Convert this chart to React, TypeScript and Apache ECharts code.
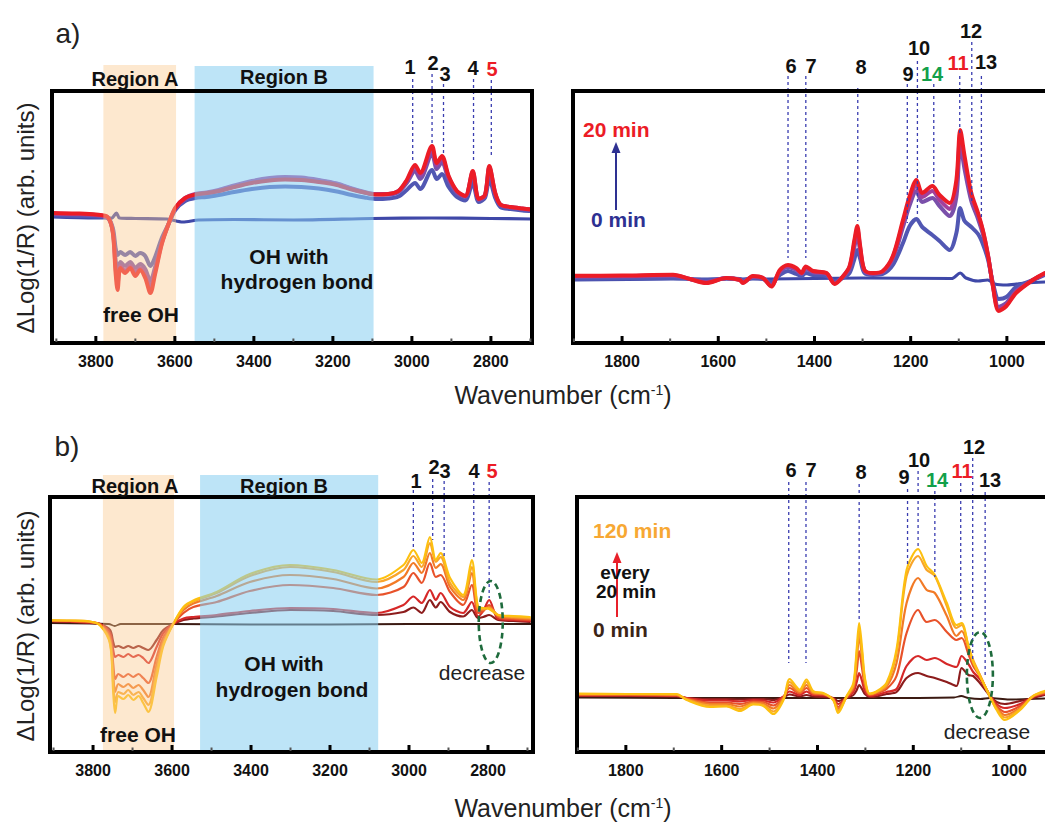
import React, { useEffect, useRef } from "react";
import * as echarts from "echarts";

const FONT = '"Liberation Sans", Arial, Helvetica, sans-serif';

// ================= Panel a (0 → 20 min), 3910–2700 cm-1 =================
const A_HI_WN = [3910, 3850, 3800, 3770, 3757, 3750, 3745, 3738, 3726, 3713, 3700, 3688, 3675, 3662, 3650, 3633, 3616, 3599, 3574, 3548, 3520, 3489, 3450, 3405, 3360, 3321, 3280, 3236, 3190, 3152, 3120, 3093, 3060, 3034, 3013, 2992, 2979, 2949, 2937, 2924, 2907, 2886, 2865, 2846, 2831, 2815, 2804, 2789, 2776, 2750, 2720, 2696];
const A_HI_5MIN = [0.25, 0.2, 0.15, 0.0, -1.0, -3.0, -3.7, -3.4, -3.7, -3.4, -3.8, -3.5, -3.8, -4.8, -3.9, -2.0, -0.6, 0.8, 1.7, 2.0, 2.1, 2.3, 2.6, 2.9, 3.1, 3.15, 3.1, 2.95, 2.65, 2.3, 2.05, 1.9, 1.95, 2.15, 2.8, 3.5, 2.9, 4.8, 3.9, 4.4, 3.1, 2.1, 1.75, 3.5, 1.6, 2.0, 3.9, 2.0, 1.1, 0.9, 0.75, 0.7];
const A_HI_10MIN = [0.4, 0.35, 0.3, 0.05, -1.3, -4.2, -5.4, -4.4, -4.8, -4.4, -5.0, -4.6, -5.1, -6.3, -4.9, -2.4, -0.6, 0.9, 1.9, 2.3, 2.45, 2.7, 3.15, 3.6, 3.9, 4.0, 3.95, 3.75, 3.4, 2.9, 2.55, 2.35, 2.35, 2.6, 3.5, 4.7, 3.9, 6.4, 4.9, 5.6, 3.8, 2.5, 2.1, 4.3, 1.8, 2.2, 4.8, 2.3, 1.3, 1.05, 0.9, 0.8];
const A_HI_15MIN = [0.45, 0.4, 0.3, 0.05, -1.4, -5.0, -6.5, -4.8, -5.3, -4.8, -5.5, -5.0, -5.6, -7.0, -5.3, -2.5, -0.6, 1.0, 2.0, 2.4, 2.55, 2.8, 3.25, 3.7, 4.0, 4.1, 4.05, 3.8, 3.45, 2.95, 2.6, 2.4, 2.4, 2.7, 3.7, 5.1, 4.3, 6.9, 5.3, 6.0, 4.1, 2.65, 2.2, 4.6, 1.9, 2.3, 5.1, 2.45, 1.35, 1.1, 0.95, 0.85];
const A_HI_20MIN = [0.5, 0.45, 0.35, 0.1, -1.5, -5.5, -7.2, -5.0, -5.5, -5.0, -5.8, -5.2, -6.0, -7.5, -5.6, -2.6, -0.6, 1.0, 2.0, 2.35, 2.5, 2.7, 3.1, 3.5, 3.75, 3.85, 3.8, 3.6, 3.3, 2.85, 2.55, 2.35, 2.4, 2.7, 3.8, 5.3, 4.5, 7.2, 5.5, 6.2, 4.2, 2.7, 2.2, 4.7, 1.9, 2.3, 5.2, 2.5, 1.35, 1.1, 0.95, 0.85];
const A_HI_0MIN_WN = [3910, 3800, 3760, 3748, 3740, 3700, 3620, 3580, 3540, 3450, 3300, 3100, 2950, 2800, 2696];
const A_HI_0MIN = [0.1, 0.0, 0.0, 0.5, 0.0, -0.05, -0.1, -0.4, -0.2, -0.15, -0.2, -0.05, 0.0, -0.05, -0.1];

// ================= Panel a, 1900–920 cm-1 =================
const A_LO_WN = [1902, 1800, 1694, 1659, 1625, 1583, 1555, 1549, 1528, 1507, 1490, 1472, 1455, 1438, 1427, 1418, 1403, 1375, 1358, 1341, 1327, 1317, 1311, 1305, 1296, 1278, 1258, 1237, 1216, 1202, 1188, 1176, 1155, 1140, 1119, 1105, 1097, 1088, 1074, 1060, 1050, 1039, 1029, 1017, 1001, 981, 946, 921];
const A_LO_5MIN = [0.0, 0.05, 0.1, 0.0, -0.1, 0.05, 0.0, -0.1, 0.1, 0.0, -0.3, 0.4, 0.8, 0.5, 0.3, 0.6, 0.4, 0.3, -0.2, 0.1, 0.6, 2.0, 2.9, 2.0, 0.6, 0.4, 0.5, 1.4, 3.6, 5.3, 6.0, 5.2, 4.4, 3.8, 2.9, 4.6, 7.1, 5.8, 5.2, 4.5, 3.5, 1.9, -0.4, -2.0, -1.8, -0.8, -0.1, 0.4];
const A_LO_10MIN = [0.2, 0.25, 0.3, 0.0, -0.3, 0.1, -0.05, -0.3, 0.2, 0.05, -0.6, 0.7, 1.2, 0.9, 0.5, 1.05, 0.65, 0.5, -0.4, 0.2, 1.0, 3.2, 4.5, 2.8, 0.8, 0.5, 0.7, 2.0, 5.2, 7.4, 8.8, 7.7, 8.1, 7.3, 6.3, 8.2, 13.5, 11.0, 7.8, 6.0, 4.5, 2.2, -0.6, -2.8, -2.4, -1.2, -0.1, 0.5];
const A_LO_15MIN = [0.3, 0.3, 0.4, 0.0, -0.35, 0.1, -0.1, -0.35, 0.25, 0.1, -0.7, 0.8, 1.3, 1.0, 0.55, 1.15, 0.75, 0.55, -0.45, 0.25, 1.2, 3.6, 5.0, 3.1, 0.85, 0.55, 0.75, 2.2, 5.6, 7.9, 9.4, 8.2, 8.8, 7.9, 7.0, 9.2, 14.3, 11.8, 8.3, 6.4, 4.8, 2.3, -0.7, -3.0, -2.6, -1.3, -0.1, 0.55];
const A_LO_20MIN = [0.33, 0.35, 0.43, 0.0, -0.4, 0.1, -0.1, -0.4, 0.3, 0.1, -0.75, 0.9, 1.4, 1.1, 0.6, 1.25, 0.8, 0.6, -0.5, 0.25, 1.3, 3.9, 5.3, 3.3, 0.9, 0.6, 0.8, 2.3, 5.9, 8.3, 9.9, 8.6, 9.3, 8.4, 7.6, 9.9, 14.9, 12.3, 8.6, 6.6, 4.9, 2.3, -0.7, -3.2, -2.7, -1.4, -0.1, 0.6];
const A_LO_0MIN_WN = [1902, 1700, 1500, 1300, 1115, 1097, 1085, 1060, 1040, 1025, 1000, 960, 921];
const A_LO_0MIN = [-0.1, 0.0, 0.0, 0.1, 0.05, 0.6, 0.1, -0.2, -0.1, -0.5, -0.6, -0.4, -0.3];

// ================= Panel b (0 → 120 min, every 20 min), 3910–2690 cm-1 =================
const B_HI_WN = [3909, 3858, 3808, 3782, 3757, 3749, 3744, 3736, 3723, 3711, 3698, 3685, 3673, 3660, 3639, 3622, 3597, 3571, 3546, 3487, 3403, 3301, 3192, 3082, 3014, 2989, 2968, 2947, 2932, 2920, 2896, 2863, 2841, 2825, 2812, 2797, 2774, 2736, 2694];
const B_HI_20MIN = [0.25, 0.2, 0.1, 0.0, -0.6, -1.8, -2.3, -2.2, -2.4, -2.2, -2.4, -2.2, -2.4, -2.6, -1.6, -0.6, 0, 0.4, 0.55, 0.75, 1.1, 1.4, 1.3, 0.9, 1.2, 1.65, 1.1, 2.4, 1.65, 2.2, 1.2, 0.75, 1.4, 0.6, 0.7, 0.9, 0.4, 0.3, 0.2];
const B_HI_40MIN = [0.3, 0.25, 0.15, 0.0, -0.9, -2.6, -3.3, -3.1, -3.3, -3.0, -3.3, -3.1, -3.4, -3.9, -2.3, -0.9, 0, 0.55, 0.7, 0.9, 1.3, 1.6, 1.5, 1.1, 1.9, 2.75, 2.1, 3.4, 2.4, 3.1, 1.7, 1.1, 2.2, 0.75, 1.3, 2.4, 0.5, 0.4, 0.3];
const B_HI_60MIN = [0.3, 0.3, 0.2, -0.05, -1.2, -4.0, -5.5, -5.0, -5.3, -5.0, -5.3, -5.0, -5.4, -5.9, -3.3, -1.3, 0, 1.1, 1.7, 2.2, 3.3, 3.9, 3.6, 2.9, 3.7, 5.1, 4.1, 6.1, 4.7, 4.9, 3.2, 1.9, 3.9, 1.1, 1.3, 1.9, 0.7, 0.5, 0.4];
const B_HI_80MIN = [0.35, 0.3, 0.2, -0.1, -1.5, -5.0, -6.8, -6.0, -6.3, -6.0, -6.4, -6.1, -6.6, -7.3, -4.0, -1.7, 0, 1.4, 2.05, 2.8, 4.2, 4.9, 4.5, 3.55, 4.7, 6.1, 5.1, 7.1, 5.6, 6.0, 3.7, 2.4, 5.1, 1.4, 1.4, 1.7, 0.8, 0.6, 0.5];
const B_HI_100MIN = [0.35, 0.35, 0.25, -0.1, -1.8, -6.0, -7.8, -6.8, -7.0, -6.6, -7.1, -6.8, -7.4, -8.1, -4.7, -2.0, 0, 1.6, 2.25, 3.1, 4.8, 5.7, 5.2, 4.2, 5.4, 6.8, 5.7, 8.1, 6.2, 6.7, 4.1, 2.7, 5.7, 1.6, 1.5, 1.6, 0.9, 0.7, 0.6];
const B_HI_120MIN = [0.4, 0.35, 0.25, -0.15, -2.0, -6.8, -8.9, -7.2, -7.5, -7.1, -7.6, -7.2, -7.9, -8.8, -5.3, -2.2, 0, 1.7, 2.35, 3.2, 5.0, 5.9, 5.4, 4.45, 5.9, 7.4, 6.1, 8.7, 6.4, 7.1, 4.6, 2.9, 6.4, 1.7, 1.6, 1.5, 0.9, 0.8, 0.7];
const B_HI_0MIN_WN = [3909, 3760, 3745, 3730, 3600, 3400, 3200, 3000, 2800, 2686];
const B_HI_0MIN = [0.1, 0.0, -0.2, 0.0, 0.0, -0.05, -0.05, 0.0, 0.0, 0.0];

// ================= Panel b, 1900–925 cm-1 =================
const B_LO_WN = [1903, 1799, 1694, 1673, 1625, 1590, 1562, 1534, 1513, 1492, 1471, 1458, 1437, 1423, 1409, 1388, 1367, 1357, 1339, 1325, 1318, 1313, 1307, 1301, 1291, 1277, 1256, 1235, 1214, 1190, 1172, 1155, 1130, 1110, 1099, 1085, 1075, 1061, 1040, 1026, 1009, 977, 950, 926];
const B_LO_20MIN = [0.2, 0.2, 0.15, 0.0, -0.1, -0.1, -0.15, -0.1, -0.1, -0.2, 0.1, 0.35, 0.15, 0.3, 0.15, 0.1, 0.0, -0.3, 0.0, 0.3, 0.8, 1.3, 0.9, 0.4, 0.1, 0.15, 0.4, 0.6, 2.0, 2.5, 2.2, 2.0, 1.6, 1.2, 3.0, 2.3, 2.2, 1.5, 0.2, -0.4, -0.6, -0.3, 0.0, 0.3];
const B_LO_40MIN = [0.25, 0.25, 0.2, 0.0, -0.25, -0.25, -0.35, -0.2, -0.25, -0.45, 0.15, 0.65, 0.3, 0.65, 0.3, 0.25, -0.05, -0.6, 0.05, 0.6, 1.6, 2.5, 1.7, 0.7, 0.2, 0.3, 0.6, 0.9, 3.2, 4.2, 3.8, 4.0, 3.4, 3.1, 4.2, 3.4, 2.6, 1.9, 0.3, -0.6, -1.0, -0.6, 0.1, 0.4];
const B_LO_60MIN = [0.3, 0.3, 0.25, -0.05, -0.45, -0.45, -0.6, -0.35, -0.4, -0.75, 0.1, 1.0, 0.45, 1.0, 0.4, 0.35, -0.1, -0.9, 0.1, 0.9, 2.8, 4.7, 3.0, 1.2, 0.3, 0.45, 0.9, 2.2, 6.5, 8.8, 7.6, 7.8, 6.6, 5.8, 6.0, 4.4, 3.2, 2.2, 0.2, -0.8, -1.4, -0.8, 0.15, 0.5];
const B_LO_80MIN = [0.35, 0.35, 0.3, -0.1, -0.6, -0.6, -0.85, -0.45, -0.55, -1.05, 0.0, 1.3, 0.55, 1.3, 0.5, 0.4, -0.15, -1.1, 0.15, 1.1, 3.8, 6.2, 4.0, 1.5, 0.35, 0.55, 1.1, 3.5, 9.5, 12.0, 10.8, 10.5, 8.2, 6.2, 6.7, 5.0, 3.6, 2.3, 0.1, -1.0, -1.7, -1.0, 0.15, 0.55];
const B_LO_100MIN = [0.4, 0.4, 0.35, -0.15, -0.75, -0.75, -1.1, -0.55, -0.7, -1.35, -0.1, 1.6, 0.7, 1.6, 0.6, 0.45, -0.2, -1.3, 0.15, 1.3, 4.5, 6.7, 4.5, 1.8, 0.4, 0.6, 1.3, 4.5, 12.2, 14.2, 12.8, 12.2, 9.2, 7.0, 7.3, 5.2, 3.8, 2.3, 0.1, -1.1, -1.95, -1.1, 0.2, 0.6];
const B_LO_120MIN = [0.45, 0.4, 0.4, -0.2, -0.9, -0.85, -1.3, -0.65, -0.8, -1.6, -0.2, 1.9, 0.85, 1.85, 0.7, 0.5, -0.2, -1.5, 0.2, 1.5, 5.0, 7.5, 5.0, 2.0, 0.45, 0.65, 1.5, 4.85, 12.8, 14.9, 13.2, 12.3, 9.5, 7.3, 7.5, 5.2, 3.6, 2.2, 0.2, -1.2, -2.2, -1.2, 0.2, 0.7];
const B_LO_0MIN_WN = [1903, 1700, 1500, 1300, 1115, 1100, 1085, 1060, 1040, 1000, 960, 926];
const B_LO_0MIN = [0.05, 0.0, 0.0, 0.0, 0.05, 0.2, 0.0, -0.1, 0.0, -0.15, -0.1, -0.05];

// ================= Axis ranges (wavenumber, arb. units) =================
const X_RANGES = [[2696, 3911], [848, 1902], [2686, 3909], [852, 1902]];
const Y_RANGES = [[-12.5, 12.7], [-6.4, 18.8], [-12.8, 12.7], [-5.4, 20.1]];
const MAJOR_STEP = 200;
const MINOR_STEP = 100;

// ================= Shaded regions (cm-1) =================
const A_REGION_A = [3781, 3597];
const A_REGION_B = [3550, 3097];
const B_REGION_A = [3775, 3595];
const B_REGION_B = [3529, 3078];

// ================= Peak markers =================
const A_HI_PEAK_LABELS = ["1", "2", "3", "4", "5"];
const A_HI_PEAK_WN = [2998, 2949, 2920, 2844, 2799];
const A_HI_PEAK_END = [5.66, 7.33, 6.33, 5.66, 6.0];
const A_LO_PEAK_LABELS = ["6", "7", "8", "9", "10", "14", "11", "12", "13"];
const A_LO_PEAK_WN = [1455, 1418, 1310, 1207, 1186, 1152, 1098, 1073, 1053];
const A_LO_PEAK_END = [2.1, 2.1, 5.8, 5.6, 6.3, 9.3, 14.6, 7.6, 5.9];
const B_HI_PEAK_LABELS = ["1", "2", "3", "4", "5"];
const B_HI_PEAK_WN = [2989, 2940, 2911, 2836, 2797];
const B_HI_PEAK_END = [7.4, 8.4, 6.6, 6.4, 2.6];
const B_LO_PEAK_LABELS = ["6", "7", "8", "9", "10", "14", "11", "12", "13"];
const B_LO_PEAK_WN = [1460, 1424, 1313, 1212, 1190, 1155, 1101, 1076, 1050];
const B_LO_PEAK_END = [3.5, 3.5, 7.8, 13.1, 15.1, 12.1, 7.8, 3.8, 2.1];

// "decrease" ellipse centres (cm-1, arb.)
const B_HI_DECREASE = [2793, 0.2];
const B_LO_DECREASE = [1061, 2.3];

// ---------- layout / styles ----------
const GRIDS = [
  { left: 52, top: 91, width: 480, height: 252 },
  { left: 573, top: 91, width: 507, height: 252 },
  { left: 50, top: 497, width: 483, height: 255 },
  { left: 577, top: 497, width: 503, height: 255 },
];
const SPLITS = [6, 5, 6, 5];

const A_COLORS = ["#3f48a8", "#5157b3", "#7a50aa", "#a2409c", "#ec1c26"];
const B_COLORS = ["#3b1a12", "#8c1c1c", "#d62828", "#e8522a", "#f27a26", "#f8a52a", "#fdc010"];

const PEAK_COLOR: Record<string, string> = { "5": "#ec1c26", "11": "#ec1c26", "14": "#13a04a" };

// label pixel positions (text placement only)
const A_HI_LABEL_POS = [[410, 67], [433, 63], [445, 74], [473, 68], [492, 69]];
const A_HI_LINE_TOP = [79, 74, 84, 79, 80];
const A_LO_LABEL_POS = [[791, 66], [811, 66], [861, 67], [908, 74], [919, 48], [932, 74], [958, 63], [971, 31], [986, 62]];
const A_LO_LINE_TOP = [76, 76, 88, 84, 61, 84, 76, 42, 76];
const B_HI_LABEL_POS = [[416, 481], [434, 467], [445, 471], [474, 471], [492, 471]];
const B_HI_LINE_TOP = [490, 479, 481, 482, 482];
const B_LO_LABEL_POS = [[791, 470], [811, 470], [861, 472], [904, 477], [919, 460], [937, 480], [962, 471], [974, 447], [990, 480]];
const B_LO_LINE_TOP = [482, 482, 484, 489, 471, 491, 483, 458, 492];

function lineSeries(gi: number, wn: number[], vals: number[], color: string, width: number, z: number) {
  return {
    type: "line",
    xAxisIndex: gi,
    yAxisIndex: gi,
    data: wn.map((w, i) => [w, vals[i]]),
    showSymbol: false,
    symbol: "none",
    smooth: 0.3,
    silent: true,
    z,
    lineStyle: { color, width, cap: "round", join: "round" },
    itemStyle: { color },
  };
}

function buildOption() {
  const series: any[] = [];
  const aHi = [A_HI_5MIN, A_HI_10MIN, A_HI_15MIN, A_HI_20MIN];
  const aLo = [A_LO_5MIN, A_LO_10MIN, A_LO_15MIN, A_LO_20MIN];
  series.push(lineSeries(0, A_HI_0MIN_WN, A_HI_0MIN, A_COLORS[0], 3.2, 2));
  aHi.forEach((v, i) => series.push(lineSeries(0, A_HI_WN, v, A_COLORS[i + 1], 4, 3 + i)));
  series.push(lineSeries(1, A_LO_0MIN_WN, A_LO_0MIN, A_COLORS[0], 3.2, 2));
  aLo.forEach((v, i) => series.push(lineSeries(1, A_LO_WN, v, A_COLORS[i + 1], 4, 3 + i)));

  const bHi = [B_HI_20MIN, B_HI_40MIN, B_HI_60MIN, B_HI_80MIN, B_HI_100MIN, B_HI_120MIN];
  const bLo = [B_LO_20MIN, B_LO_40MIN, B_LO_60MIN, B_LO_80MIN, B_LO_100MIN, B_LO_120MIN];
  series.push(lineSeries(2, B_HI_0MIN_WN, B_HI_0MIN, B_COLORS[0], 1.8, 2));
  bHi.forEach((v, i) => series.push(lineSeries(2, B_HI_WN, v, B_COLORS[i + 1], 2.2, 3 + i)));
  series.push(lineSeries(3, B_LO_0MIN_WN, B_LO_0MIN, B_COLORS[0], 1.8, 2));
  bLo.forEach((v, i) => series.push(lineSeries(3, B_LO_WN, v, B_COLORS[i + 1], 2.2, 3 + i)));

  return {
    animation: false,
    backgroundColor: "#ffffff",
    grid: GRIDS.map((g) => ({ ...g, show: false, containLabel: false })),
    xAxis: GRIDS.map((_, i) => ({
      type: "value",
      gridIndex: i,
      position: "bottom",
      min: X_RANGES[i][0],
      max: X_RANGES[i][1],
      inverse: true,
      splitNumber: SPLITS[i],
      axisLine: { show: false, onZero: false },
      axisTick: { show: false },
      minorTick: { show: false },
      splitLine: { show: false },
      minorSplitLine: { show: false },
      axisLabel: {
        color: "#111",
        fontWeight: "bold",
        fontSize: 16,
        fontFamily: FONT,
        margin: 10,
        formatter: (v: number) => (Math.abs(v % MAJOR_STEP) < 1e-6 ? String(v) : ""),
      },
    })),
    yAxis: GRIDS.map((_, i) => ({
      type: "value",
      gridIndex: i,
      min: Y_RANGES[i][0],
      max: Y_RANGES[i][1],
      show: false,
      splitLine: { show: false },
    })),
    series,
  };
}

function txt(x: number, y: number, text: string, opts: any = {}) {
  return {
    type: "text",
    x,
    y,
    z: 40,
    silent: true,
    rotation: opts.rotation || 0,
    style: {
      text,
      fill: opts.fill || "#111",
      fontSize: opts.fontSize || 20,
      fontWeight: opts.fontWeight || "bold",
      fontFamily: FONT,
      align: opts.align || "center",
      verticalAlign: "middle",
      lineHeight: opts.lineHeight,
      rich: opts.rich,
    },
  };
}

function buildGraphics(chart: any) {
  const P = (gi: number, x: number, y: number) => chart.convertToPixel({ gridIndex: gi }, [x, y]) as number[];
  const g: any[] = [];
  const boxBottom = (gi: number) => P(gi, X_RANGES[gi][0], Y_RANGES[gi][0])[1];

  // shaded regions (drawn over the spectra, semi-transparent)
  const bands: [number, number[], number, string][] = [
    [0, A_REGION_A, 65, "rgba(250, 200, 140, 0.42)"],
    [0, A_REGION_B, 66, "rgba(135, 206, 240, 0.55)"],
    [2, B_REGION_A, 475, "rgba(250, 200, 140, 0.42)"],
    [2, B_REGION_B, 475, "rgba(135, 206, 240, 0.55)"],
  ];
  bands.forEach(([gi, r, top, color]) => {
    const x1 = P(gi, r[0], 0)[0];
    const x2 = P(gi, r[1], 0)[0];
    const yb = boxBottom(gi);
    g.push({
      type: "rect",
      z: 10,
      silent: true,
      shape: { x: Math.min(x1, x2), y: top, width: Math.abs(x2 - x1), height: yb - top },
      style: { fill: color },
    });
  });

  // boxes + inward ticks on the bottom edge
  GRIDS.forEach((_, gi) => {
    const p1 = P(gi, X_RANGES[gi][1], Y_RANGES[gi][1]);
    const p2 = P(gi, X_RANGES[gi][0], Y_RANGES[gi][0]);
    const yb = Math.max(p1[1], p2[1]);
    g.push({
      type: "rect",
      z: 30,
      silent: true,
      shape: { x: Math.min(p1[0], p2[0]), y: Math.min(p1[1], p2[1]), width: Math.abs(p2[0] - p1[0]), height: Math.abs(p2[1] - p1[1]) },
      style: { fill: "none", stroke: "#000", lineWidth: 4 },
    });
    const start = Math.ceil(X_RANGES[gi][0] / MINOR_STEP) * MINOR_STEP;
    for (let v = start; v < X_RANGES[gi][1]; v += MINOR_STEP) {
      const x = P(gi, v, 0)[0];
      const major = v % MAJOR_STEP === 0;
      g.push({
        type: "line",
        z: 31,
        silent: true,
        shape: { x1: x, y1: yb - 1, x2: x, y2: yb - (major ? 7 : 4.5) },
        style: { stroke: major ? "#000" : "#555", lineWidth: major ? 3 : 2 },
      });
    }
  });

  // peak markers
  const peakSets: [number, string[], number[], number[], number[][], number[]][] = [
    [0, A_HI_PEAK_LABELS, A_HI_PEAK_WN, A_HI_PEAK_END, A_HI_LABEL_POS, A_HI_LINE_TOP],
    [1, A_LO_PEAK_LABELS, A_LO_PEAK_WN, A_LO_PEAK_END, A_LO_LABEL_POS, A_LO_LINE_TOP],
    [2, B_HI_PEAK_LABELS, B_HI_PEAK_WN, B_HI_PEAK_END, B_HI_LABEL_POS, B_HI_LINE_TOP],
    [3, B_LO_PEAK_LABELS, B_LO_PEAK_WN, B_LO_PEAK_END, B_LO_LABEL_POS, B_LO_LINE_TOP],
  ];
  peakSets.forEach(([gi, labels, wn, end, pos, tops]) => {
    labels.forEach((lab, i) => {
      const p = P(gi, wn[i], end[i]);
      g.push({
        type: "line",
        z: 25,
        silent: true,
        shape: { x1: p[0], y1: tops[i], x2: p[0], y2: p[1] },
        style: { stroke: "#3a3db0", lineWidth: 1.3, lineDash: [3, 3] },
      });
      g.push(txt(pos[i][0], pos[i][1], lab, { fill: PEAK_COLOR[lab] || "#111", fontSize: 20 }));
    });
  });

  // panel letters, axis titles
  const yTitle = "ΔLog(1/R) (arb. units)";
  const xRich = {
    a: { fontSize: 25, fontFamily: FONT, fill: "#222", lineHeight: 30 },
    s: { fontSize: 14, fontFamily: FONT, fill: "#222", lineHeight: 30, verticalAlign: "top", padding: [3, 0, 0, 0] },
  };
  g.push(txt(68, 33, "a)", { fontSize: 28, fontWeight: "normal", fill: "#222" }));
  g.push(txt(67, 446, "b)", { fontSize: 28, fontWeight: "normal", fill: "#222" }));
  g.push(txt(25, 218, yTitle, { fontSize: 24, fontWeight: "normal", fill: "#222", rotation: Math.PI / 2 }));
  g.push(txt(25, 626, yTitle, { fontSize: 24, fontWeight: "normal", fill: "#222", rotation: Math.PI / 2 }));
  g.push(txt(563, 395, "{a|Wavenumber (cm}{s|-1}{a|)}", { fontWeight: "normal", rich: xRich }));
  g.push(txt(563, 808, "{a|Wavenumber (cm}{s|-1}{a|)}", { fontWeight: "normal", rich: xRich }));

  // region annotations
  g.push(txt(135, 79, "Region A", { fontSize: 20 }));
  g.push(txt(284, 77, "Region B", { fontSize: 20 }));
  g.push(txt(135, 486, "Region A", { fontSize: 20 }));
  g.push(txt(284, 486, "Region B", { fontSize: 20 }));
  g.push(txt(141, 314, "free OH", { fontSize: 21 }));
  g.push(txt(138, 734, "free OH", { fontSize: 21 }));
  g.push(txt(289, 256, "OH with", { fontSize: 21 }));
  g.push(txt(297, 281, "hydrogen bond", { fontSize: 21 }));
  g.push(txt(284, 663, "OH with", { fontSize: 21 }));
  g.push(txt(292, 689, "hydrogen bond", { fontSize: 21 }));

  // time annotations, panel a
  g.push({ type: "line", z: 35, silent: true, shape: { x1: 616, y1: 210, x2: 616, y2: 150 }, style: { stroke: "#2e3192", lineWidth: 2 } });
  g.push({ type: "polygon", z: 35, silent: true, shape: { points: [[616, 142], [611.5, 153], [620.5, 153]] }, style: { fill: "#2e3192" } });
  g.push(txt(583, 129, "20 min", { fontSize: 21, fill: "#ec1c26", align: "left" }));
  g.push(txt(591, 219, "0 min", { fontSize: 21, fill: "#2e3192", align: "left" }));

  // time annotations, panel b
  g.push({ type: "line", z: 35, silent: true, shape: { x1: 617, y1: 617, x2: 617, y2: 560 }, style: { stroke: "#e8202a", lineWidth: 2 } });
  g.push({ type: "polygon", z: 35, silent: true, shape: { points: [[617, 552], [612.5, 563], [621.5, 563]] }, style: { fill: "#e8202a" } });
  g.push(txt(593, 530, "120 min", { fontSize: 21, fill: "#f7a833", align: "left" }));
  g.push(txt(625, 572, "every", { fontSize: 19, fill: "#111" }));
  g.push(txt(626, 591, "20 min", { fontSize: 19, fill: "#111" }));
  g.push(txt(593, 629, "0 min", { fontSize: 21, fill: "#3b2416", align: "left" }));

  // "decrease" ellipses
  const e1 = P(2, B_HI_DECREASE[0], B_HI_DECREASE[1]);
  const e2 = P(3, B_LO_DECREASE[0], B_LO_DECREASE[1]);
  [[e1, 12, 41], [e2, 13, 43]].forEach(([c, rx, ry]: any) => {
    g.push({
      type: "ellipse",
      z: 36,
      silent: true,
      shape: { cx: c[0], cy: c[1], rx, ry },
      style: { fill: "none", stroke: "#1e6b3c", lineWidth: 2.6, lineDash: [6, 4] },
    });
  });
  g.push(txt(482, 672, "decrease", { fontSize: 21, fontWeight: "normal", fill: "#222" }));
  g.push(txt(987, 731, "decrease", { fontSize: 21, fontWeight: "normal", fill: "#222" }));

  return g;
}

export default function App() {
  const ref = useRef<HTMLDivElement>(null);
  useEffect(() => {
    if (!ref.current) return;
    const chart = echarts.init(ref.current, null, { renderer: "svg" });
    chart.setOption(buildOption() as any);
    chart.setOption({ graphic: { elements: buildGraphics(chart) } } as any);
    return () => chart.dispose();
  }, []);
  return (
    <div style={{ position: "absolute", left: 0, top: 0, width: 1045, height: 823, overflow: "hidden", background: "#fff" }}>
      <div ref={ref} style={{ width: 1100, height: 823 }} />
    </div>
  );
}
